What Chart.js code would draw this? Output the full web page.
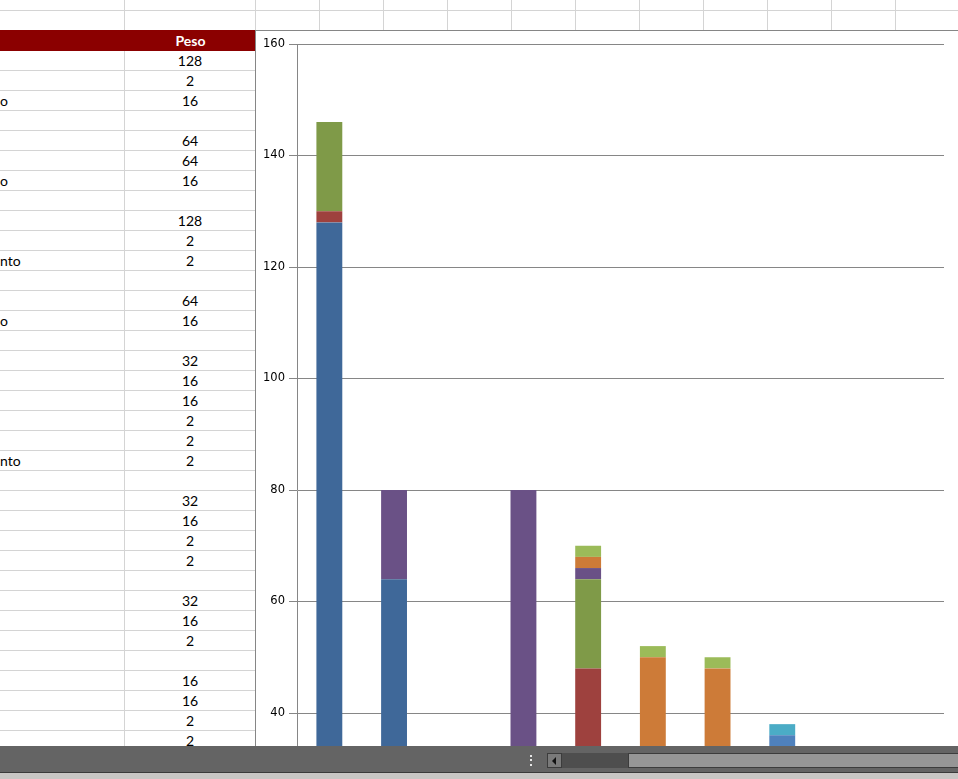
<!DOCTYPE html>
<html>
<head>
<meta charset="utf-8">
<script src="https://cdn.jsdelivr.net/npm/chart.js@4.4.1/dist/chart.umd.min.js"></script>
<style>
    body { margin: 0; width: 958px; height: 779px; overflow: hidden; background: #fff; position: relative; font-family: Lato, "Open Sans", sans-serif; }
    .hl { position: absolute; height: 1px; background: #d4d4d4; }
    .vl { position: absolute; width: 1px; background: #d4d4d4; }
    .cell { position: absolute; height: 20px; line-height: 20px; font-size: 14px; color: #000; white-space: nowrap; }
    #head { position: absolute; left: 0; top: 30px; width: 256px; height: 21px; background: #8b0000; }
    #head span { position: absolute; left: 125px; width: 131px; text-align: center; top: 0; line-height: 21px; font-size: 14px; font-weight: bold; color: #fff; }
    #chartBox { position: absolute; left: 255px; top: 30px; width: 703px; height: 931px; border-top: 1px solid #868686; border-left: 1px solid #868686; box-sizing: border-box; background: #fff; }
    #statusBar { position: absolute; left: 0; top: 746px; width: 958px; height: 26px; background: #646464; border-bottom: 1px solid #3a3a3a; }
    #bottomStrip { position: absolute; left: 0; top: 773px; width: 958px; height: 6px; background: #c8c6c4; }
    .dot { position: absolute; left: 530px; width: 2px; height: 2px; background: #e6e6e6; }
    #scrollBtn { position: absolute; left: 547px; top: 753px; width: 13px; height: 13px; background: #7a7a7a; border: 1px solid #3c3c3c; }
    #scrollBtn:after { content: ""; position: absolute; left: 4px; top: 3px; border-right: 4px solid #111; border-top: 4px solid transparent; border-bottom: 4px solid transparent; }
    #thumb { position: absolute; left: 562px; top: 753px; width: 66px; height: 15px; background: #4e4e4e; }
    #track { position: absolute; left: 628px; top: 753px; width: 340px; height: 13px; background: #969696; border: 1px solid #3c3c3c; }
</style>
</head>
<body>
<div id="sheet"></div>
<div id="head"><span>Peso</span></div>
<div id="chartBox"><canvas id="pesoChart" width="702" height="930"></canvas></div>
<div id="statusBar"></div>
<div class="dot" style="top:755px"></div>
<div class="dot" style="top:759px"></div>
<div class="dot" style="top:764px"></div>
<div id="scrollBtn"></div>
<div id="thumb"></div>
<div id="track"></div>
<div id="bottomStrip"></div>

<script>
// spreadsheet column (visible part)
const nameTails = ['', '', 'o', '', '', '', 'o', '', '', '', 'nto', '', '', 'o', '', '', '', '', '', '', 'nto',
    '', '', '', '', '', '', '', '', '', '', '', '', '', ''];
const pesoValues = [128, 2, 16, null, 64, 64, 16, null, 128, 2, 2, null, 64, 16, null, 32, 16, 16, 2, 2, 2,
    null, 32, 16, 2, 2, null, 32, 16, 2, null, 16, 16, 2, 2];

// chart data
const categories = ['1', '2', '3', '4', '5', '6', '7', '8', '9', '10'];
const serie1 = [128, 64, 0, 0, 0, 0, 0, 0, 0, 0];
const serie2 = [2, 0, 0, 0, 48, 0, 0, 0, 0, 0];
const serie3 = [16, 0, 0, 0, 16, 0, 0, 0, 0, 0];
const serie4 = [0, 16, 0, 80, 2, 0, 0, 0, 0, 0];
const serie5 = [0, 0, 0, 0, 2, 50, 48, 0, 0, 0];
const serie6 = [0, 0, 0, 0, 2, 2, 2, 0, 0, 0];
const serie7 = [0, 0, 0, 0, 0, 0, 0, 36, 0, 0];
const serie8 = [0, 0, 0, 0, 0, 0, 0, 2, 0, 0];
const yTicks = [0, 20, 40, 60, 80, 100, 120, 140, 160];

const colors = ['#3f6899', '#9e413e', '#7f9a48', '#6a5186', '#cd7b38', '#9bbb59', '#4f81bd', '#4bacc6'];

// draw the sheet grid
const sheet = document.getElementById('sheet');
function add(cls, css, text) {
    const d = document.createElement('div');
    d.className = cls;
    d.style.cssText = css;
    if (text !== undefined) d.textContent = text;
    sheet.appendChild(d);
}
add('hl', 'left:0;top:10px;width:958px');
add('hl', 'left:0;top:30px;width:958px');
add('vl', 'left:124px;top:0;height:746px');
add('vl', 'left:255px;top:0;height:30px');
for (let x = 319; x < 958; x += 64) add('vl', 'left:' + x + 'px;top:0;height:30px');
for (let i = 0; i < pesoValues.length; i++) {
    const top = 51 + i * 20;
    add('hl', 'left:0;top:' + (top + 19) + 'px;width:255px');
    if (nameTails[i]) add('cell', 'left:0;top:' + top + 'px', nameTails[i]);
    if (pesoValues[i] !== null) add('cell', 'left:125px;width:130px;text-align:center;top:' + top + 'px', pesoValues[i]);
}

const seriesData = [serie1, serie2, serie3, serie4, serie5, serie6, serie7, serie8];
const ctx = document.getElementById('pesoChart').getContext('2d');
const pesoChart = new Chart(ctx, {
    type: 'bar',
    data: {
        labels: categories,
        datasets: seriesData.map((d, i) => ({
            label: 'Serie ' + (i + 1),
            data: d,
            backgroundColor: colors[i],
            borderWidth: 0,
            barPercentage: 0.4,
            categoryPercentage: 1
        }))
    },
    options: {
        responsive: false,
        animation: false,
        devicePixelRatio: 1,
        layout: { padding: { top: 13, right: 14, bottom: 25, left: 0 } },
        plugins: { legend: { display: false }, tooltip: { enabled: false } },
        scales: {
            x: { display: false, stacked: true },
            y: {
                stacked: true,
                min: yTicks[0],
                max: yTicks[yTicks.length - 1],
                afterBuildTicks: (scale) => { scale.ticks = yTicks.map(v => ({ value: v })); },
                afterFit: (scale) => { scale.width = 41; },
                ticks: { color: '#000', padding: 4, font: { family: 'DejaVu Sans', size: 11.5 } },
                grid: { color: '#868686', tickLength: 8, lineWidth: 1 },
                border: { color: '#868686' }
            }
        }
    }
});
</script>
</body>
</html>
